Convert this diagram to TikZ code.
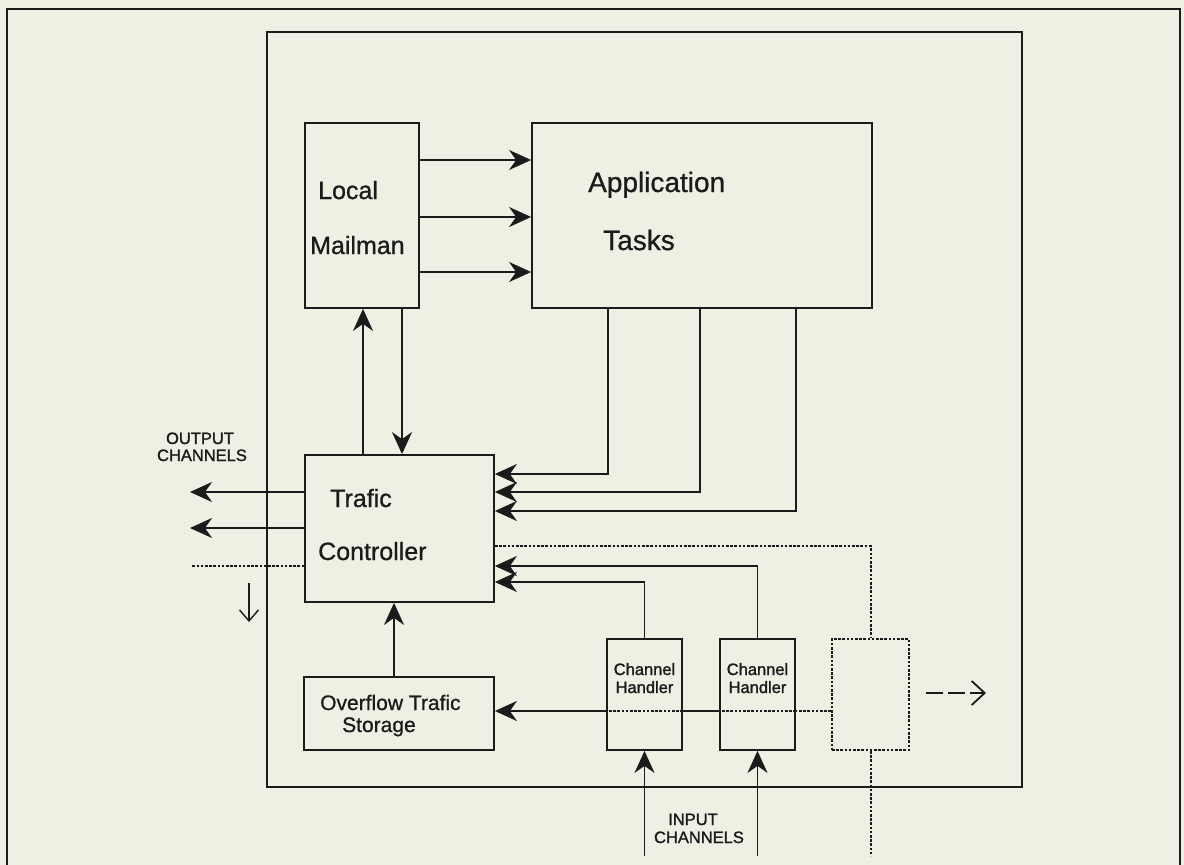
\documentclass[tikz,border=0pt]{standalone}
\usepackage{fontspec}
\setmainfont{Liberation Sans}[FakeBold=0.8]
\newfontfamily\smallface{Liberation Sans}[FakeBold=1.4]
\usetikzlibrary{arrows.meta}
\definecolor{paper}{RGB}{240,239,228}
\definecolor{ink}{RGB}{28,26,26}

\tikzset{
  box/.style={draw=ink, line width=1.8pt, rectangle, inner sep=0pt},
  dotbox/.style={draw=ink, line width=2pt, rectangle, inner sep=0pt, dash pattern=on 2.6pt off 1.6pt},
  lbl/.style={text=ink, inner sep=0pt, anchor=base west},
  clbl/.style={text=ink, inner sep=0pt, anchor=base},
  wire/.style={draw=ink, line width=1.8pt},
  arr/.style={wire, -{Stealth[length=22pt,width=20pt,inset=7pt]}},
  dots/.style={wire, line width=2pt, dash pattern=on 2.6pt off 1.6pt},
  big/.style={font=\fontsize{28}{32}\selectfont},
  mid/.style={font=\fontsize{25}{30}\selectfont},
  sml/.style={font=\fontsize{21}{25}\selectfont},
  tiny/.style={font=\smallface\fontsize{16.5}{19}\selectfont},
}

\begin{document}
\begin{tikzpicture}[x=1pt, y=-1pt]
  \useasboundingbox (0,0) rectangle (1184,865);
  \fill[paper] (0,0) rectangle (1184,865);

  % page frame (open at the bottom edge)
  \draw[ink, line width=2.4pt] (7,880) -- (7,9) -- (1180,9) -- (1180,880);

  % node enclosure
  \node[box, minimum width=755pt, minimum height=755pt] (host) at (644.5,409.5) {};

  % blocks
  \node[box, minimum width=114pt, minimum height=185pt] (mail) at (362,215.5) {};
  \node[box, minimum width=340pt, minimum height=185pt] (app)  at (702,215.5) {};
  \node[box, minimum width=189pt, minimum height=147pt] (traf) at (399.5,528.5) {};
  \node[box, minimum width=190pt, minimum height=73pt]  (ovf)  at (399,713.5) {};
  \node[box, minimum width=75pt,  minimum height=111pt] (ch1)  at (644.5,694.5) {};
  \node[box, minimum width=75pt,  minimum height=111pt] (ch2)  at (757.5,694.5) {};
  \node[dotbox, minimum width=77pt, minimum height=111pt] (spare) at (870.5,694.5) {};

  % texts
  \node[lbl, mid] (tlocal) at (318,199) {Local};
  \node[lbl, mid] (tmail)  at (310,254) {Mailman};
  \node[lbl, big] (tapp)   at (588,192) {Application};
  \node[lbl, big] (ttask)  at (603,250) {Tasks};
  \node[lbl, mid] (ttraf)  at (330,507) {Trafic};
  \node[lbl, mid] (tctrl)  at (318,560) {Controller};
  \node[lbl, sml] (tovf)   at (320,710) {Overflow Trafic};
  \node[lbl, sml] (tstor)  at (342,732) {Storage};
  \node[clbl, tiny] (tch1a) at (644.5,675) {Channel};
  \node[clbl, tiny] (tch1b) at (644.5,693) {Handler};
  \node[clbl, tiny] (tch2a) at (757.5,675) {Channel};
  \node[clbl, tiny] (tch2b) at (757.5,693) {Handler};
  \node[clbl, tiny] (tout1) at (200,444) {OUTPUT};
  \node[clbl, tiny] (tout2) at (202,461) {CHANNELS};
  \node[clbl, tiny] (tin1)  at (693,825) {INPUT};
  \node[clbl, tiny] (tin2)  at (699,843) {CHANNELS};

  % guide coordinates
  \coordinate (m1) at (0,160);
  \coordinate (m2) at (0,217);
  \coordinate (m3) at (0,272);
  \coordinate (up) at (363,0);
  \coordinate (dn) at (402,0);
  \coordinate (ta) at (608,474);
  \coordinate (tb) at (700,492);
  \coordinate (tc) at (796,511);
  \coordinate (dl1) at (0,546);
  \coordinate (c2) at (0,566);
  \coordinate (c1) at (0,582);
  \coordinate (hz) at (0,711);
  \coordinate (ov) at (394,0);
  \coordinate (out1) at (190,492);
  \coordinate (out2) at (190,528);
  \coordinate (lost) at (192,566);
  \coordinate (in1) at (644.5,856);
  \coordinate (in2) at (757.5,856);
  \coordinate (spareout) at (870.5,856);
  \coordinate (sa) at (249,583);
  \coordinate (sb) at (249,622);
  \coordinate (ra) at (926,693);
  \coordinate (rb) at (986,693);

  % mailman -> application tasks
  \draw[arr] (mail.east |- m1) -- (app.west |- m1);
  \draw[arr] (mail.east |- m2) -- (app.west |- m2);
  \draw[arr] (mail.east |- m3) -- (app.west |- m3);

  % mailman <-> traffic controller
  \draw[arr] (traf.north -| up) -- (mail.south -| up);
  \draw[arr] (mail.south -| dn) -- (traf.north -| dn);

  % application tasks -> traffic controller
  \draw[arr] (app.south -| ta) |- (traf.east |- ta);
  \draw[arr] (app.south -| tb) |- (traf.east |- tb);
  \draw[arr] (app.south -| tc) |- (traf.east |- tc);

  % channel handlers -> traffic controller
  \draw[arr] (ch2.north) |- (traf.east |- c2);
  \draw[arr] (ch1.north) |- (traf.east |- c1);

  % spare handler link
  \draw[dots] (traf.east |- dl1) -| (spare.north);
  \draw[dots] (spare.south) -- (spareout);

  % overflow path
  \draw[dots] (spare.west |- hz) -- (ch2.east |- hz);
  \draw[dots] (ch2.east |- hz) -- (ch2.west |- hz);
  \draw[wire] (ch2.west |- hz) -- (ch1.east |- hz);
  \draw[dots] (ch1.east |- hz) -- (ch1.west |- hz);
  \draw[arr] (ch1.west |- hz) -- (ovf.east |- hz);
  \draw[arr] (ovf.north -| ov) -- (traf.south -| ov);

  % output channels
  \draw[arr] (traf.west |- out1) -- (out1);
  \draw[arr] (traf.west |- out2) -- (out2);
  \draw[dots] (traf.west |- lost) -- (lost);
  \draw[ink, line width=1.4pt, -{Straight Barb[length=11pt,width=19pt]}] (sa) -- (sb);

  % input channels
  \draw[arr] (in1) -- (ch1.south);
  \draw[arr] (in2) -- (ch2.south);

  % onward link
  \draw[ink, line width=1.8pt, dash pattern=on 17pt off 5pt,
        -{Straight Barb[length=13pt,width=24pt]}] (ra) -- (rb);
\end{tikzpicture}
\end{document}
